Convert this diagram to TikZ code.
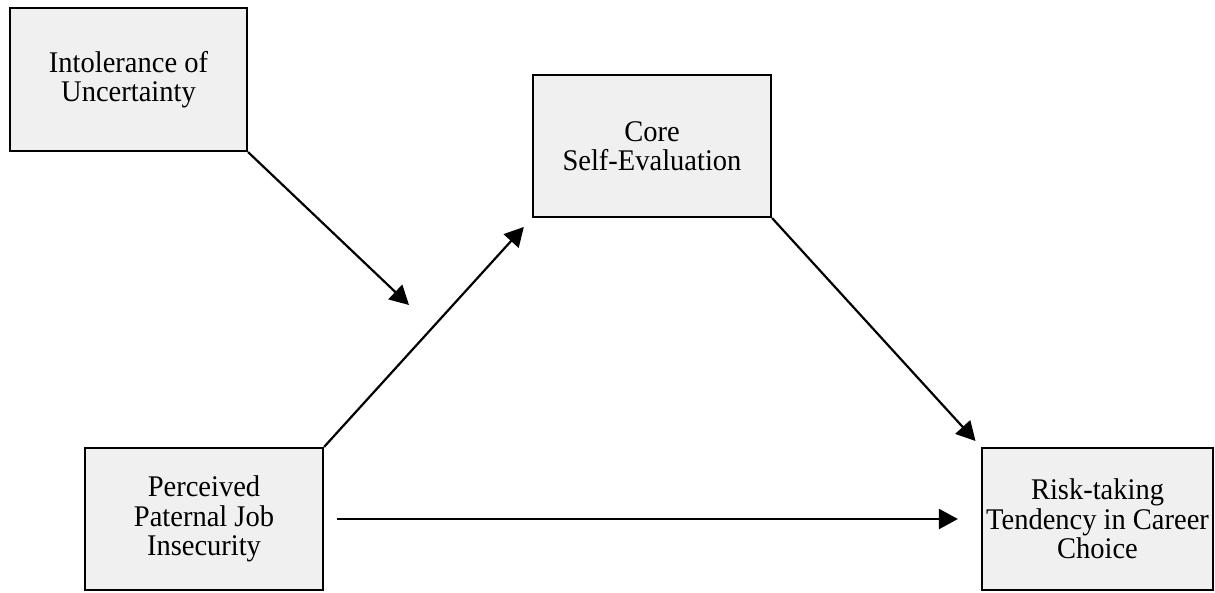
\documentclass[tikz,border=0pt]{standalone}
\usepackage{fontspec}
\setmainfont{Liberation Serif}
\newfontfamily\kastenfont[FakeStretch=0.95]{Liberation Serif}
\usetikzlibrary{arrows.meta}
\definecolor{boxgrau}{RGB}{240,240,240}

\begin{document}
\begin{tikzpicture}[x=1pt, y=-1pt, line width=2.2pt,
    kasten/.style={draw, fill=boxgrau, minimum width=237pt, minimum height=142pt, align=center, inner sep=2pt, font=\kastenfont\fontsize{30}{29.5}\selectfont},
    pfeil/.style={-{Triangle[length=19pt, width=20pt]}}]

    \useasboundingbox (0, 0) rectangle (1215, 592);

    \node[kasten, minimum height=143pt] (iou) at (128.5, 79.5) {Intolerance of\\Uncertainty};
    \node[kasten, minimum width=238pt] (cse) at (652, 146) {Core\\Self-Evaluation};
    \node[kasten, minimum width=238pt] (ppji) at (204, 519) {Perceived\\Paternal Job\\Insecurity};
    \node[kasten, minimum width=231pt] (rtt) at (1097.5, 519) {Risk-taking\\Tendency in Career\\Choice};

    \coordinate (mod) at (409, 305);

    \draw[pfeil] (iou.south east) -- (mod);
    \draw[pfeil, shorten >=12pt] (ppji.north east) -- (cse.south west);
    \draw[pfeil, shorten >=8pt] (cse.south east) -- (rtt.north west);
    \draw[pfeil, shorten <=13pt, shorten >=23pt] (ppji.east) -- (rtt.west);

\end{tikzpicture}
\end{document}
